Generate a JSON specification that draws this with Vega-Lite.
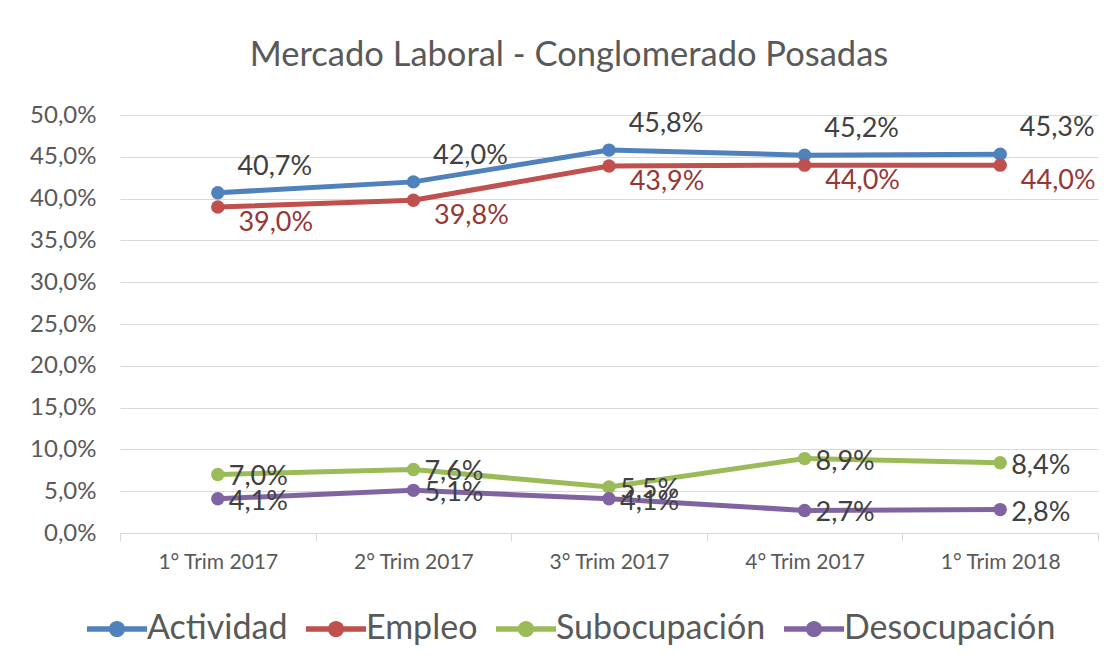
{
  "$schema": "https://vega.github.io/schema/vega-lite/v6.json",
  "width": 978,
  "height": 418,
  "autosize": "none",
  "padding": {"left": 120, "top": 115, "right": 19, "bottom": 139},
  "background": "white",
  "config": {
    "font": "Lato",
    "view": {"stroke": null},
    "locale": {"number": {"decimal": ",", "thousands": ".", "grouping": [3], "currency": ["", " €"]}}
  },
  "title": {
    "text": "Mercado Laboral - Conglomerado Posadas",
    "fontSize": 34.5,
    "fontWeight": "normal",
    "color": "#595959",
    "font": "Lato",
    "anchor": "middle",
    "frame": "group",
    "dx": -40,
    "offset": 30
  },
  "data": {
    "values": [
      {"trim": "1° Trim 2017", "serie": "Actividad", "valor": 0.407},
      {"trim": "2° Trim 2017", "serie": "Actividad", "valor": 0.420},
      {"trim": "3° Trim 2017", "serie": "Actividad", "valor": 0.458},
      {"trim": "4° Trim 2017", "serie": "Actividad", "valor": 0.452},
      {"trim": "1° Trim 2018", "serie": "Actividad", "valor": 0.453},
      {"trim": "1° Trim 2017", "serie": "Empleo", "valor": 0.390},
      {"trim": "2° Trim 2017", "serie": "Empleo", "valor": 0.398},
      {"trim": "3° Trim 2017", "serie": "Empleo", "valor": 0.439},
      {"trim": "4° Trim 2017", "serie": "Empleo", "valor": 0.440},
      {"trim": "1° Trim 2018", "serie": "Empleo", "valor": 0.440},
      {"trim": "1° Trim 2017", "serie": "Subocupación", "valor": 0.070},
      {"trim": "2° Trim 2017", "serie": "Subocupación", "valor": 0.076},
      {"trim": "3° Trim 2017", "serie": "Subocupación", "valor": 0.055},
      {"trim": "4° Trim 2017", "serie": "Subocupación", "valor": 0.089},
      {"trim": "1° Trim 2018", "serie": "Subocupación", "valor": 0.084},
      {"trim": "1° Trim 2017", "serie": "Desocupación", "valor": 0.041},
      {"trim": "2° Trim 2017", "serie": "Desocupación", "valor": 0.051},
      {"trim": "3° Trim 2017", "serie": "Desocupación", "valor": 0.041},
      {"trim": "4° Trim 2017", "serie": "Desocupación", "valor": 0.027},
      {"trim": "1° Trim 2018", "serie": "Desocupación", "valor": 0.028}
    ]
  },
  "encoding": {
    "x": {
      "field": "trim",
      "type": "nominal",
      "sort": null,
      "title": null,
      "scale": {"type": "band", "paddingInner": 0, "paddingOuter": 0},
      "axis": {
        "labelAngle": 0,
        "labelFontSize": 21,
        "labelColor": "#595959",
        "labelPadding": 10,
        "tickBand": "extent",
        "tickColor": "#D9D9D9",
        "tickSize": 8,
        "domainColor": "#D9D9D9",
        "grid": false
      }
    },
    "y": {
      "field": "valor",
      "type": "quantitative",
      "title": null,
      "scale": {"domain": [0, 0.5]},
      "axis": {
        "format": ".1%",
        "values": [0, 0.05, 0.1, 0.15, 0.2, 0.25, 0.3, 0.35, 0.4, 0.45, 0.5],
        "labelFontSize": 24,
        "labelColor": "#595959",
        "labelPadding": 24,
        "domain": false,
        "ticks": false,
        "gridColor": "#D9D9D9",
        "gridWidth": 1
      }
    }
  },
  "layer": [
    {
      "mark": {"type": "line", "strokeWidth": 5},
      "encoding": {
        "color": {
          "field": "serie",
          "type": "nominal",
          "scale": {
            "domain": ["Actividad", "Empleo", "Subocupación", "Desocupación"],
            "range": ["#4F81BD", "#C0504D", "#9BBB59", "#8064A2"]
          },
          "legend": {
            "orient": "none",
            "legendX": -33,
            "legendY": 484,
            "direction": "horizontal",
            "columns": 4,
            "title": null,
            "labelFontSize": 34,
            "labelLimit": 0,
            "labelColor": "#595959",
            "labelFont": "Lato",
            "labelOffset": 0,
            "columnPadding": 18,
            "symbolType": "M -1 -0.09 H 1 V 0.09 H -1 Z M 0.27 0 A 0.27 0.27 0 1 1 -0.27 0 A 0.27 0.27 0 1 1 0.27 0 Z",
            "symbolSize": 3600,
            "symbolStrokeWidth": 0,
            "encode": {
              "symbols": {"update": {"fill": {"scale": "color", "field": "value"}, "strokeWidth": {"value": 0}}}
            }
          }
        }
      }
    },
    {
      "mark": {"type": "point", "filled": true, "size": 180, "opacity": 1},
      "encoding": {
        "color": {"field": "serie", "type": "nominal", "legend": null}
      }
    },
    {
      "transform": [{"filter": "datum.serie === 'Actividad'"}],
      "mark": {"type": "text", "fontSize": 27, "color": "#404040", "align": "center", "baseline": "middle", "dx": 57, "dy": -26},
      "encoding": {"text": {"field": "valor", "type": "quantitative", "format": ".1%"}}
    },
    {
      "transform": [{"filter": "datum.serie === 'Empleo'"}],
      "mark": {"type": "text", "fontSize": 27, "color": "#953735", "align": "center", "baseline": "middle", "dx": 58, "dy": 16},
      "encoding": {"text": {"field": "valor", "type": "quantitative", "format": ".1%"}}
    },
    {
      "transform": [{"filter": "datum.serie === 'Subocupación' || datum.serie === 'Desocupación'"}],
      "mark": {"type": "text", "fontSize": 27, "color": "#404040", "align": "left", "baseline": "middle", "dx": 11, "dy": 3},
      "encoding": {"text": {"field": "valor", "type": "quantitative", "format": ".1%"}}
    }
  ]
}
